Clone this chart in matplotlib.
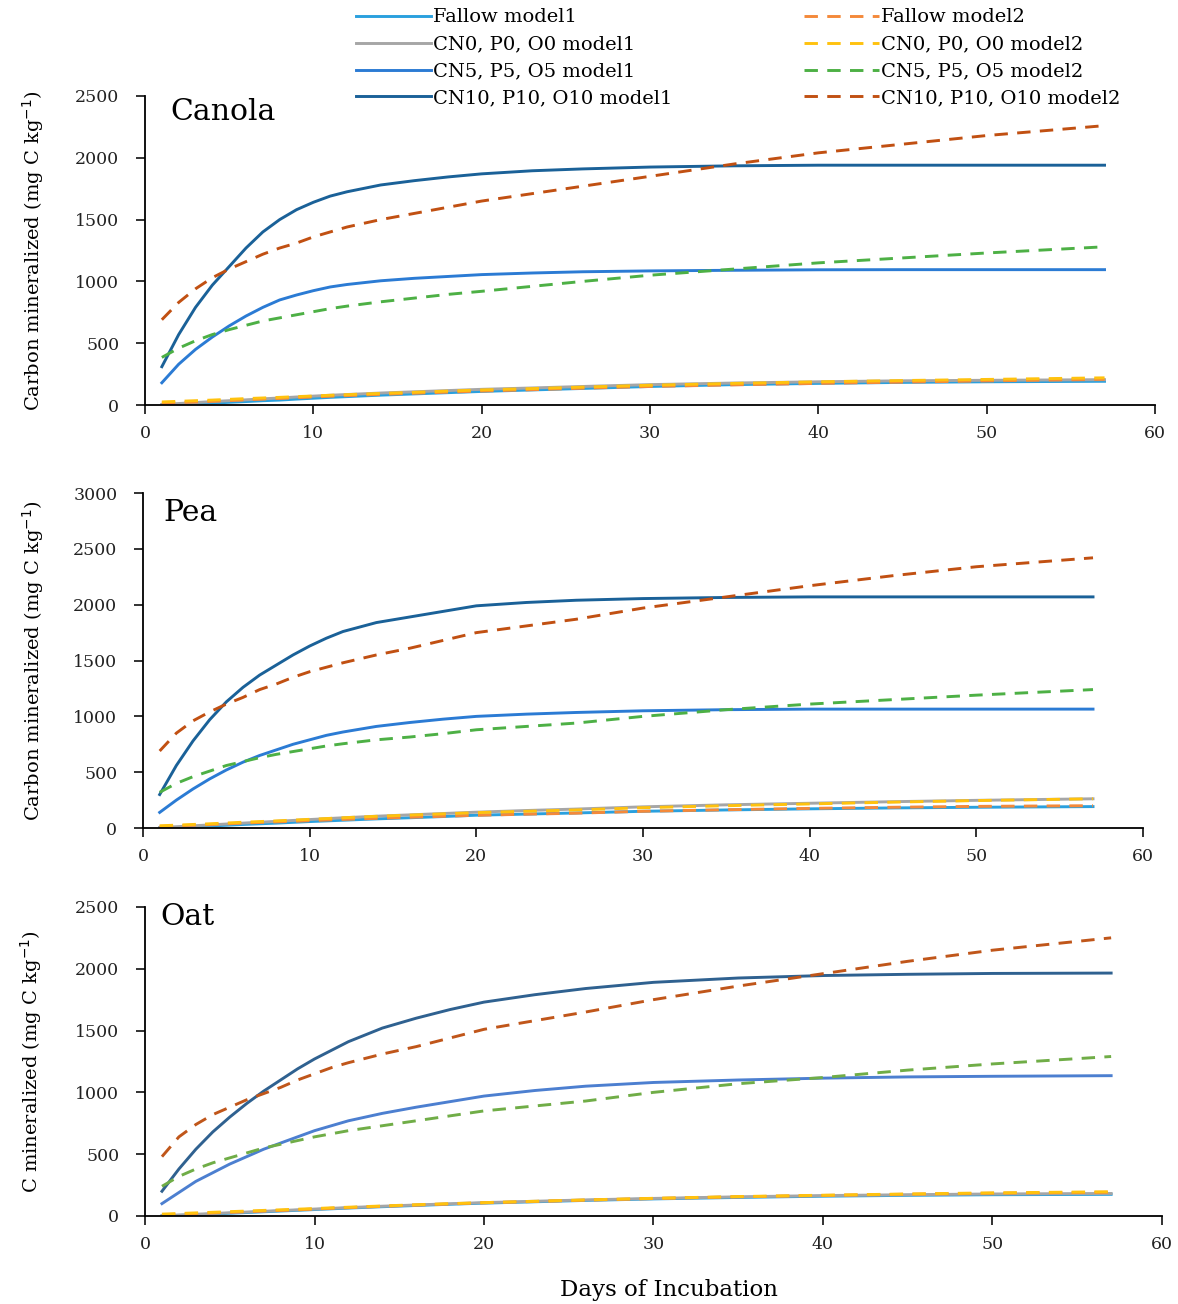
import matplotlib
matplotlib.use("Agg")
import matplotlib.pyplot as plt

# days of incubation (common grid for every series)
days = [1, 2, 3, 4, 5, 6, 7, 8, 9, 10, 11, 12, 14, 16, 18, 20, 23, 26, 30, 35, 40, 45, 50, 57]

# Canola
canola_fallow_m1 = [0, 5, 10, 15, 22, 28, 35, 40, 48, 55, 62, 68, 80, 90, 100, 110, 122, 134, 150, 165, 175, 183, 188, 192]
canola_cn0_m1 = [5, 12, 20, 28, 35, 42, 50, 57, 65, 72, 79, 85, 97, 107, 117, 127, 138, 150, 165, 178, 188, 196, 200, 205]
canola_cn5_m1 = [180, 330, 450, 550, 640, 720, 790, 850, 890, 925, 955, 975, 1005, 1025, 1040, 1055, 1068, 1078, 1085, 1090, 1094, 1095, 1095, 1095]
canola_cn10_m1 = [310, 570, 790, 970, 1120, 1270, 1400, 1500, 1580, 1640, 1690, 1725, 1780, 1815, 1845, 1870, 1895, 1910, 1925, 1935, 1940, 1940, 1940, 1940]
canola_fallow_m2 = [15, 20, 25, 30, 36, 42, 48, 53, 59, 65, 71, 76, 86, 95, 104, 113, 124, 136, 150, 163, 175, 185, 195, 208]
canola_cn0_m2 = [25, 30, 35, 40, 46, 52, 57, 62, 68, 73, 79, 84, 94, 103, 113, 122, 133, 145, 160, 175, 188, 198, 207, 220]
canola_cn5_m2 = [385, 460, 520, 570, 610, 645, 680, 705, 730, 755, 780, 800, 835, 865, 895, 920, 960, 1000, 1050, 1100, 1150, 1190, 1230, 1280]
canola_cn10_m2 = [690, 830, 940, 1030, 1100, 1160, 1220, 1270, 1310, 1360, 1400, 1440, 1500, 1550, 1600, 1650, 1710, 1770, 1850, 1950, 2040, 2110, 2180, 2260]

# Pea
pea_fallow_m1 = [0, 5, 12, 18, 25, 32, 38, 44, 51, 58, 64, 70, 82, 92, 103, 115, 125, 135, 150, 162, 172, 180, 186, 192]
pea_cn0_m1 = [5, 12, 20, 28, 36, 44, 52, 60, 68, 76, 84, 92, 106, 118, 130, 142, 157, 170, 190, 208, 222, 236, 248, 262]
pea_cn5_m1 = [140, 250, 350, 440, 520, 590, 650, 700, 750, 790, 830, 860, 910, 945, 975, 1000, 1020, 1035, 1050, 1060, 1065, 1065, 1065, 1065]
pea_cn10_m1 = [300, 560, 780, 970, 1130, 1260, 1370, 1460, 1550, 1630, 1700, 1760, 1840, 1890, 1940, 1990, 2020, 2040, 2055, 2065, 2070, 2070, 2070, 2070]
pea_fallow_m2 = [15, 20, 26, 32, 38, 44, 50, 55, 60, 66, 72, 77, 87, 96, 105, 114, 124, 133, 150, 164, 176, 186, 194, 200]
pea_cn0_m2 = [20, 26, 32, 38, 45, 52, 58, 64, 71, 78, 85, 92, 105, 116, 127, 138, 150, 162, 182, 200, 216, 232, 246, 262]
pea_cn5_m2 = [320, 400, 460, 510, 560, 595, 630, 660, 685, 710, 735, 755, 790, 815, 845, 880, 910, 940, 1000, 1060, 1110, 1150, 1190, 1240]
pea_cn10_m2 = [690, 850, 960, 1040, 1110, 1170, 1240, 1290, 1350, 1400, 1440, 1480, 1550, 1610, 1680, 1750, 1810, 1870, 1970, 2070, 2170, 2260, 2340, 2420]

# Oat
oat_fallow_m1 = [0, 5, 10, 15, 22, 28, 34, 40, 46, 52, 58, 64, 75, 85, 95, 104, 115, 126, 138, 150, 160, 167, 172, 175]
oat_cn0_m1 = [3, 8, 14, 20, 26, 32, 38, 44, 50, 56, 62, 68, 79, 89, 99, 108, 119, 130, 142, 155, 165, 172, 178, 182]
oat_cn5_m1 = [100, 190, 280, 350, 420, 480, 540, 590, 640, 690, 730, 770, 830, 880, 925, 970, 1015, 1050, 1080, 1100, 1115, 1125, 1130, 1135]
oat_cn10_m1 = [200, 380, 540, 680, 800, 910, 1010, 1100, 1190, 1270, 1340, 1410, 1520, 1600, 1670, 1730, 1790, 1840, 1890, 1925, 1945, 1955, 1962, 1965]
oat_fallow_m2 = [10, 15, 20, 25, 30, 35, 40, 45, 50, 56, 62, 67, 78, 88, 97, 106, 117, 128, 141, 155, 166, 176, 184, 192]
oat_cn0_m2 = [15, 20, 25, 30, 35, 40, 45, 50, 55, 60, 66, 71, 81, 91, 100, 108, 119, 130, 143, 157, 168, 178, 187, 196]
oat_cn5_m2 = [240, 320, 380, 430, 470, 510, 550, 580, 610, 640, 665, 690, 730, 770, 810, 850, 890, 930, 1000, 1070, 1120, 1180, 1230, 1290]
oat_cn10_m2 = [480, 640, 740, 820, 880, 940, 990, 1040, 1100, 1150, 1200, 1240, 1310, 1370, 1440, 1510, 1580, 1650, 1750, 1860, 1960, 2060, 2150, 2250]

labels = ["Fallow model1", "CN0, P0, O0 model1", "CN5, P5, O5 model1", "CN10, P10, O10 model1",
          "Fallow model2", "CN0, P0, O0 model2", "CN5, P5, O5 model2", "CN10, P10, O10 model2"]

plt.rcParams['font.family'] = ['DejaVu Serif']

fig = plt.figure(figsize=(11.78, 13.04), dpi=100)

light = '#2AA0DE'
gray = '#A6A6A6'
orange = '#F4893A'
yellow = '#FFC20E'

panels = [
    dict(name="Canola", rect=[0.1231, 0.6894, 0.8574, 0.2370], ymax=2500, lab_x=-0.098,
         ylabel="Carbon mineralized (mg C kg$^{-1}$)", title_xy=(0.025, 0.948),
         series=[canola_fallow_m1, canola_cn0_m1, canola_cn5_m1, canola_cn10_m1,
                 canola_fallow_m2, canola_cn0_m2, canola_cn5_m2, canola_cn10_m2],
         colors=[light, gray, '#2B7BD4', '#1A6198', orange, yellow, '#4DB045', '#C15012']),
    dict(name="Pea", rect=[0.1214, 0.3650, 0.8489, 0.2569], ymax=3000, lab_x=-0.097,
         ylabel="Carbon mineralized (mg C kg$^{-1}$)", title_xy=(0.02, 0.94),
         series=[pea_fallow_m1, pea_cn0_m1, pea_cn5_m1, pea_cn10_m1,
                 pea_fallow_m2, pea_cn0_m2, pea_cn5_m2, pea_cn10_m2],
         colors=[light, gray, '#2B7BD4', '#1A6198', orange, yellow, '#4DB045', '#C15012']),
    dict(name="Oat", rect=[0.1231, 0.0675, 0.8633, 0.2370], ymax=2500, lab_x=-0.099,
         ylabel="C mineralized (mg C kg$^{-1}$)", title_xy=(0.015, 0.968),
         series=[oat_fallow_m1, oat_cn0_m1, oat_cn5_m1, oat_cn10_m1,
                 oat_fallow_m2, oat_cn0_m2, oat_cn5_m2, oat_cn10_m2],
         colors=[light, gray, '#4C7FD0', '#2F6190', orange, yellow, '#70AD47', '#C0561A']),
]

handles = []
for p in panels:
    ax = fig.add_axes(p["rect"])
    hs = []
    # solid model1 lines first, dashed model2 on top
    for vals, col, lab in zip(p["series"][:4], p["colors"][:4], labels[:4]):
        h, = ax.plot(days, vals, color=col, lw=2.1, label=lab)
        hs.append(h)
    for vals, col, lab in zip(p["series"][4:], p["colors"][4:], labels[4:]):
        h, = ax.plot(days, vals, color=col, lw=2.1, ls=(0, (4.6, 3.2)), label=lab)
        hs.append(h)
    if not handles:
        handles = hs

    ax.set_xlim(0, 60)
    ax.set_ylim(0, p["ymax"])
    ax.set_xticks(range(0, 61, 10))
    ax.set_yticks(range(0, p["ymax"] + 1, 500))
    for s in ["top", "right"]:
        ax.spines[s].set_visible(False)
    for s in ["left", "bottom"]:
        ax.spines[s].set_linewidth(1.3)
    ax.tick_params(direction='out', length=6.5, width=1.3, labelsize=12.5, colors='#222222')
    ax.tick_params(axis='x', pad=8)
    ax.tick_params(axis='y', pad=12)
    ax.set_ylabel(p["ylabel"], fontsize=14)
    ax.yaxis.set_label_coords(p["lab_x"], 0.5)
    ax.text(p["title_xy"][0], p["title_xy"][1], p["name"], transform=ax.transAxes,
            fontsize=21.5, va='center', ha='left')

fig.text(0.568, 0.011, "Days of Incubation", ha='center', va='center', fontsize=16.5)

fig.legend(handles, labels, ncol=2, loc='upper left', bbox_to_anchor=(0.297, 0.998),
           frameon=False, fontsize=14, handlelength=3.86, handletextpad=0.1,
           columnspacing=6.8, labelspacing=0.46, borderaxespad=0.2, borderpad=0.1)

fig.savefig("out.png", dpi=100)
